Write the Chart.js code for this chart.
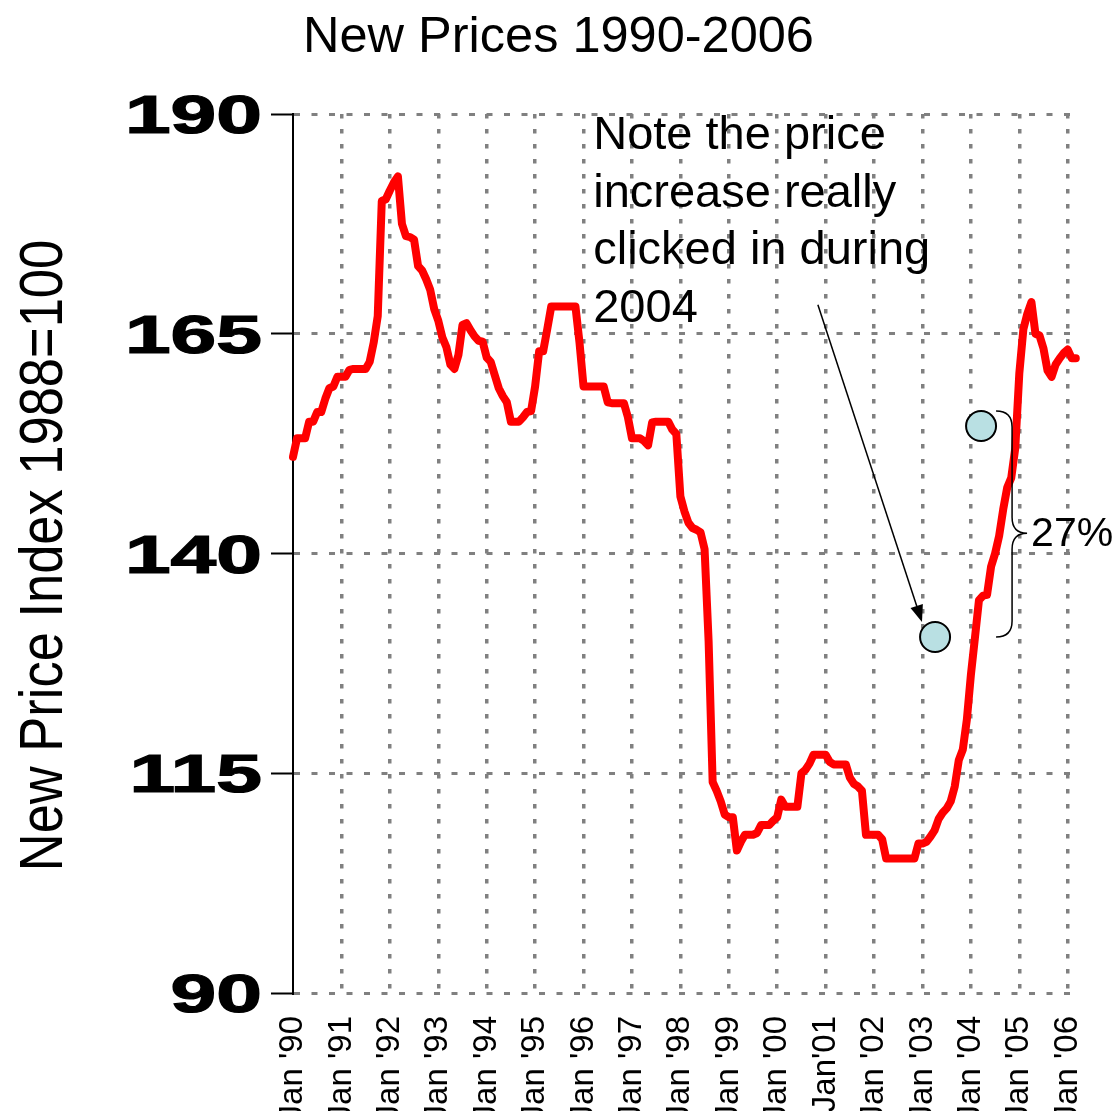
<!DOCTYPE html>
<html>
<head>
<meta charset="utf-8">
<title>New Prices 1990-2006</title>
<script src="https://cdn.jsdelivr.net/npm/chart.js@4.4.1/dist/chart.umd.min.js"></script>
<style>
  html, body { margin: 0; padding: 0; background: #fff; }
  canvas { display: block; }
</style>
</head>
<body>
<canvas id="priceChart" width="1117" height="1111"></canvas>
<script>
// Monthly new price index (1988=100), Jan 1990 .. Apr 2006
const priceIndex = [
  151.0, 153.1, 153.1, 153.1, 155.0, 155.0, 156.1, 156.1, 157.6, 158.8, 159.0, 160.1, // 1990
  160.1, 160.1, 160.9, 161.0, 161.0, 161.0, 161.0, 161.8, 164.0, 167.0, 180.1, 180.3, // 1991
  181.3, 182.2, 182.9, 177.5, 176.1, 176.0, 175.7, 172.7, 172.2, 171.2, 170.0, 167.8, // 1992
  166.5, 164.6, 163.5, 161.5, 161.0, 162.6, 166.0, 166.2, 165.4, 164.7, 164.2, 164.1, // 1993
  162.3, 161.8, 160.3, 158.8, 157.9, 157.2, 155.0, 155.0, 155.0, 155.5, 156.1, 156.2, // 1994
  159.0, 163.0, 163.0, 165.5, 168.1, 168.1, 168.1, 168.1, 168.1, 168.1, 168.1, 164.0, // 1995
  159.0, 159.0, 159.0, 159.0, 159.0, 159.0, 157.2, 157.1, 157.1, 157.1, 157.1, 155.5, // 1996
  153.1, 153.1, 153.1, 152.8, 152.3, 154.9, 155.0, 155.0, 155.0, 155.0, 154.1, 153.6, // 1997
  146.5, 144.8, 143.5, 142.9, 142.7, 142.4, 140.5, 130.0, 114.0, 113.0, 111.8, 110.3, // 1998
  110.0, 110.0, 106.2, 107.2, 108.0, 108.0, 108.0, 108.2, 109.1, 109.1, 109.1, 109.6, // 1999
  110.0, 112.0, 111.2, 111.2, 111.2, 111.2, 115.0, 115.4, 116.1, 117.1, 117.1, 117.1, // 2000
  117.1, 116.3, 116.0, 116.0, 116.0, 116.0, 114.5, 113.8, 113.5, 113.0, 108.0, 108.0, // 2001
  108.0, 108.0, 107.5, 105.3, 105.3, 105.3, 105.3, 105.3, 105.3, 105.3, 105.3, 107.0, // 2002
  107.0, 107.2, 107.8, 108.5, 109.8, 110.5, 111.0, 111.8, 113.5, 116.5, 117.7, 121.1, // 2003
  126.2, 130.4, 134.7, 135.2, 135.3, 138.5, 140.0, 142.0, 145.0, 147.5, 148.6, 152.0, // 2004
  160.5, 165.5, 167.3, 168.6, 165.0, 164.8, 163.3, 160.8, 160.1, 161.5, 162.2, 162.8, // 2005
  163.2, 162.2, 162.2, 162.2                                                          // 2006
];

const tickYears = [1990, 1991, 1992, 1993, 1994, 1995, 1996, 1997, 1998,
                   1999, 2000, 2001, 2002, 2003, 2004, 2005, 2006];
const tickLabels = ["Jan '90", "Jan '91", "Jan '92", "Jan '93", "Jan '94", "Jan '95",
                    "Jan '96", "Jan '97", "Jan '98", "Jan '99", "Jan '00", "Jan'01",
                    "Jan '02", "Jan '03", "Jan '04", "Jan '05", "Jan '06"];
const yTicks = [90, 115, 140, 165, 190];

// the two circles marking the 2003 low and the 2004 level
const markerX = [2003.26, 2004.21];
const markerY = [130.5, 154.5];

const noteLines = ["Note the price", "increase really", "clicked in during", "2004"];

Chart.defaults.font.family = "'Liberation Sans', Arial, sans-serif";
Chart.defaults.color = '#000';

const points = priceIndex.map((v, i) => ({ x: 1990 + i / 12, y: v }));
const markers = markerX.map((x, i) => ({ x: x, y: markerY[i] }));

// draws the wide y labels, the narrow axis title and the notes
const overlay = {
  id: 'overlay',
  afterDraw(chart) {
    const ctx = chart.ctx;
    const area = chart.chartArea;
    const xs = chart.scales.x;
    const ys = chart.scales.y;
    ctx.save();
    ctx.fillStyle = '#000';
    ctx.strokeStyle = '#000';

    // y tick labels
    ctx.font = "bold 53px 'Liberation Sans', Arial, sans-serif";
    ctx.textAlign = 'right';
    ctx.textBaseline = 'alphabetic';
    ctx.lineWidth = 1.2;
    yTicks.forEach(v => {
      ctx.save();
      ctx.translate(area.left - 31, ys.getPixelForValue(v) + 19);
      ctx.scale(1.55, 1);
      ctx.fillText(String(v), 0, 0);
      ctx.strokeText(String(v), 0, 0);
      ctx.restore();
    });

    // y axis title
    ctx.save();
    ctx.translate(62, (area.top + area.bottom) / 2 + 2);
    ctx.rotate(-Math.PI / 2);
    ctx.scale(0.86, 1);
    ctx.font = "61px 'Liberation Sans', Arial, sans-serif";
    ctx.textAlign = 'center';
    ctx.fillText('New Price Index 1988=100', 0, 0);
    ctx.restore();

    // note text
    ctx.font = "47px 'Liberation Sans', Arial, sans-serif";
    ctx.textAlign = 'left';
    const nx = xs.getPixelForValue(1996.2);
    noteLines.forEach((t, i) => {
      ctx.fillText(t, nx, area.top + 35 + i * 57.7);
    });

    // arrow to the 2003 low
    const ax1 = xs.getPixelForValue(2000.84), ay1 = ys.getPixelForValue(168.3);
    const ax2 = xs.getPixelForValue(2002.99), ay2 = ys.getPixelForValue(132.2);
    const ang = Math.atan2(ay2 - ay1, ax2 - ax1);
    ctx.lineWidth = 1.5;
    ctx.beginPath();
    ctx.moveTo(ax1, ay1);
    ctx.lineTo(ax2 - 14 * Math.cos(ang), ay2 - 14 * Math.sin(ang));
    ctx.stroke();
    ctx.beginPath();
    ctx.moveTo(ax2, ay2);
    ctx.lineTo(ax2 - 17 * Math.cos(ang) + 6.5 * Math.sin(ang), ay2 - 17 * Math.sin(ang) - 6.5 * Math.cos(ang));
    ctx.lineTo(ax2 - 17 * Math.cos(ang) - 6.5 * Math.sin(ang), ay2 - 17 * Math.sin(ang) + 6.5 * Math.cos(ang));
    ctx.closePath();
    ctx.fill();

    // brace + 27%
    const bx = xs.getPixelForValue(2004.52);
    const bTop = ys.getPixelForValue(156.2);
    const bBot = ys.getPixelForValue(130.5);
    const bMid = ys.getPixelForValue(142.3);
    ctx.lineWidth = 1.5;
    ctx.beginPath();
    ctx.moveTo(bx, bTop);
    ctx.quadraticCurveTo(bx + 16, bTop, bx + 16, bTop + 16);
    ctx.lineTo(bx + 16, bMid - 16);
    ctx.quadraticCurveTo(bx + 16, bMid, bx + 31, bMid);
    ctx.quadraticCurveTo(bx + 16, bMid, bx + 16, bMid + 16);
    ctx.lineTo(bx + 16, bBot - 16);
    ctx.quadraticCurveTo(bx + 16, bBot, bx, bBot);
    ctx.stroke();

    ctx.font = "41px 'Liberation Sans', Arial, sans-serif";
    ctx.fillText('27%', bx + 35, bMid + 13);
    ctx.restore();
  }
};

new Chart(document.getElementById('priceChart'), {
  type: 'line',
  data: {
    datasets: [
      {
        type: 'scatter',
        data: markers,
        pointRadius: 15,
        pointBackgroundColor: '#b9e0e3',
        pointBorderColor: '#000',
        pointBorderWidth: 2,
        order: 0
      },
      {
        data: points,
        borderColor: '#ff0000',
        borderWidth: 8,
        pointRadius: 0,
        tension: 0,
        borderJoinStyle: 'round',
        borderCapStyle: 'round',
        clip: false,
        order: 1
      }
    ]
  },
  options: {
    responsive: false,
    animation: false,
    events: [],
    layout: { padding: 0 },
    plugins: {
      legend: { display: false },
      tooltip: { enabled: false },
      title: {
        display: true,
        text: 'New Prices 1990-2006',
        color: '#000',
        font: { size: 50.5, weight: 'normal' },
        padding: { top: 8, bottom: 45.4 }
      }
    },
    scales: {
      x: {
        type: 'linear',
        min: 1990,
        max: 2006.15,
        afterBuildTicks: s => { s.ticks = tickYears.map(v => ({ value: v })); },
        afterFit: s => { s.height = 118; s.paddingLeft = 0; s.paddingRight = 0; },
        ticks: {
          autoSkip: false,
          minRotation: 90,
          maxRotation: 90,
          padding: 23,
          color: '#000',
          font: { size: 33 },
          callback: (v, i) => tickLabels[i]
        },
        grid: {
          color: c => (c.tick && c.tick.value === 1990) ? 'rgba(0,0,0,0)' : '#808080',
          lineWidth: 3.5,
          drawTicks: false
        },
        border: { display: false, dash: [4.5, 10.5] }
      },
      y: {
        min: 90,
        max: 190,
        afterBuildTicks: s => { s.ticks = yTicks.map(v => ({ value: v })); },
        afterFit: s => { s.width = 293; },
        ticks: { display: false },
        grid: { color: '#808080', lineWidth: 3, tickLength: 22, tickColor: '#000', tickWidth: 2 },
        border: { display: true, color: '#000', width: 2, dash: [6, 11.5] }
      },
      // empty right-hand strip so the plot stops short of the edge
      spacer: {
        position: 'right',
        display: true,
        afterFit: s => { s.width = 42; },
        ticks: { display: false },
        grid: { display: false, drawTicks: false },
        border: { display: false }
      }
    }
  },
  plugins: [overlay]
});
</script>
</body>
</html>
